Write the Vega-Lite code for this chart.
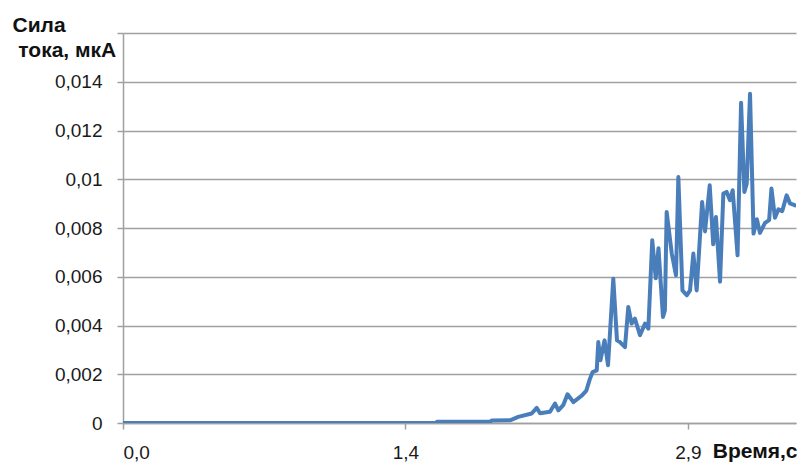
{
  "$schema": "https://vega.github.io/schema/vega-lite/v6.json",
  "width": 673,
  "height": 390,
  "autosize": {"type": "none"},
  "padding": {"left": 123, "top": 33, "right": 6, "bottom": 41},
  "background": "white",
  "config": {
    "view": {"stroke": null},
    "font": "Liberation Sans"
  },
  "data": {
    "values": [
      {"t": 0, "v": 0},
      {"t": 1.607, "v": 0},
      {"t": 1.612, "v": 0.00005},
      {"t": 1.884, "v": 0.00005},
      {"t": 1.894, "v": 0.0001},
      {"t": 1.987, "v": 0.00011},
      {"t": 2.029, "v": 0.00025},
      {"t": 2.098, "v": 0.00039},
      {"t": 2.124, "v": 0.00062},
      {"t": 2.141, "v": 0.0004},
      {"t": 2.192, "v": 0.00046},
      {"t": 2.218, "v": 0.0008},
      {"t": 2.235, "v": 0.00052},
      {"t": 2.26, "v": 0.00073},
      {"t": 2.282, "v": 0.00118},
      {"t": 2.312, "v": 0.00086},
      {"t": 2.355, "v": 0.00112},
      {"t": 2.378, "v": 0.00132},
      {"t": 2.397, "v": 0.00181},
      {"t": 2.411, "v": 0.00209},
      {"t": 2.432, "v": 0.00216},
      {"t": 2.44, "v": 0.00332},
      {"t": 2.451, "v": 0.00257},
      {"t": 2.472, "v": 0.00339},
      {"t": 2.49, "v": 0.00237},
      {"t": 2.517, "v": 0.00592},
      {"t": 2.536, "v": 0.00339},
      {"t": 2.551, "v": 0.00332},
      {"t": 2.577, "v": 0.00311},
      {"t": 2.594, "v": 0.00476},
      {"t": 2.611, "v": 0.00408},
      {"t": 2.628, "v": 0.00428},
      {"t": 2.654, "v": 0.0036},
      {"t": 2.68, "v": 0.00408},
      {"t": 2.697, "v": 0.00387},
      {"t": 2.717, "v": 0.0075},
      {"t": 2.735, "v": 0.00594},
      {"t": 2.749, "v": 0.00717},
      {"t": 2.772, "v": 0.00435},
      {"t": 2.782, "v": 0.00462},
      {"t": 2.791, "v": 0.00866},
      {"t": 2.817, "v": 0.00696},
      {"t": 2.839, "v": 0.00606},
      {"t": 2.851, "v": 0.01009},
      {"t": 2.872, "v": 0.00544},
      {"t": 2.894, "v": 0.00524},
      {"t": 2.911, "v": 0.00544},
      {"t": 2.928, "v": 0.00695},
      {"t": 2.945, "v": 0.00544},
      {"t": 2.973, "v": 0.00907},
      {"t": 2.988, "v": 0.00786},
      {"t": 3.012, "v": 0.00975},
      {"t": 3.03, "v": 0.00733},
      {"t": 3.044, "v": 0.00845},
      {"t": 3.065, "v": 0.0058},
      {"t": 3.082, "v": 0.00941},
      {"t": 3.099, "v": 0.00948},
      {"t": 3.116, "v": 0.00914},
      {"t": 3.13, "v": 0.00955},
      {"t": 3.155, "v": 0.00688},
      {"t": 3.173, "v": 0.01314},
      {"t": 3.19, "v": 0.00948},
      {"t": 3.202, "v": 0.00982},
      {"t": 3.219, "v": 0.01351},
      {"t": 3.237, "v": 0.00777},
      {"t": 3.254, "v": 0.00836},
      {"t": 3.27, "v": 0.0078},
      {"t": 3.296, "v": 0.00821},
      {"t": 3.317, "v": 0.00832},
      {"t": 3.329, "v": 0.00962},
      {"t": 3.347, "v": 0.00842},
      {"t": 3.365, "v": 0.00877},
      {"t": 3.384, "v": 0.00869},
      {"t": 3.407, "v": 0.00934},
      {"t": 3.424, "v": 0.00901},
      {"t": 3.451, "v": 0.00893}
    ]
  },
  "mark": {"type": "line", "color": "#4a7ebb", "strokeWidth": 4, "strokeJoin": "round", "strokeCap": "round", "clip": true},
  "encoding": {
    "x": {
      "field": "t",
      "type": "quantitative",
      "scale": {"domain": [0, 3.455], "nice": false, "zero": false},
      "axis": {
        "values": [0, 1.45, 2.9],
        "labelExpr": "datum.value == 0 ? '0,0' : datum.value < 2 ? '1,4' : '2,9'",
        "grid": false,
        "domainColor": "#a0a0a0",
        "domainWidth": 1.5,
        "tickColor": "#a0a0a0",
        "tickWidth": 1.5,
        "tickSize": 6,
        "labelPadding": 14,
        "labelFontSize": 19,
        "labelColor": "#1a1a1a",
        "labelFont": "Liberation Sans",
        "title": "Время,с",
        "titleFont": "Liberation Sans",
        "titleFontSize": 21,
        "titleFontWeight": "bold",
        "titleColor": "#111111",
        "titleAlign": "right",
        "titleAnchor": null,
        "titleBaseline": "alphabetic",
        "titleX": 674,
        "titleY": 34
      }
    },
    "y": {
      "field": "v",
      "type": "quantitative",
      "scale": {"domain": [0, 0.016], "nice": false},
      "axis": {
        "values": [0, 0.002, 0.004, 0.006, 0.008, 0.01, 0.012, 0.014, 0.016],
        "labelExpr": "datum.value > 0.0155 ? '' : datum.value == 0 ? '0' : replace(format(datum.value, '.3~f'), '.', ',')",
        "grid": true,
        "gridColor": "#a0a0a0",
        "gridWidth": 1.5,
        "domainColor": "#a0a0a0",
        "domainWidth": 1.5,
        "tickColor": "#a0a0a0",
        "tickWidth": 1.5,
        "tickSize": 6,
        "labelPadding": 15,
        "labelFontSize": 19,
        "labelColor": "#1a1a1a",
        "labelFont": "Liberation Sans",
        "title": ["Сила", "\u200b\u00a0тока, мкА"],
        "titleFont": "Liberation Sans",
        "titleFontSize": 21,
        "titleFontWeight": "bold",
        "titleColor": "#111111",
        "titleAngle": 0,
        "titleAlign": "left",
        "titleAnchor": null,
        "titleBaseline": "alphabetic",
        "titleLineHeight": 25,
        "titleX": -111,
        "titleY": -2
      }
    }
  }
}
